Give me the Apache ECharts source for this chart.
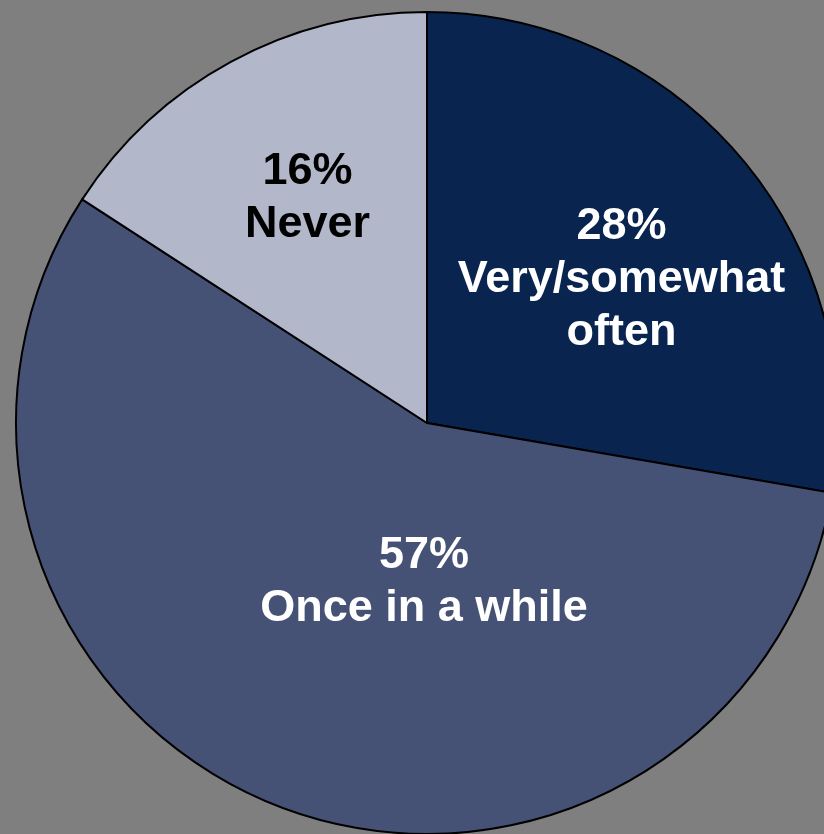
<!DOCTYPE html>
<html>
<head>
<meta charset="utf-8">
<script src="https://cdn.jsdelivr.net/npm/echarts@6/dist/echarts.min.js"></script>
<style>
  html, body { margin: 0; padding: 0; background: #7f7f7f; }
  #pie-chart { width: 824px; height: 834px; }
</style>
</head>
<body>
<div id="pie-chart"></div>
<script>
// chart data
const categories = ['Very/somewhat often', 'Once in a while', 'Never']
const percents = [28, 57, 16]

const sliceColors = ['#08244f', '#465275', '#b3b7ca']
const labelColors = ['#ffffff', '#ffffff', '#000000']
// nudge labels from the default "inside" spot
const labelOffsets = [[35, -9], [73, -35], [-20, -42]]

const chart = echarts.init(document.getElementById('pie-chart'))

chart.setOption({
  backgroundColor: '#7f7f7f',
  animation: false,
  series: [
    {
      type: 'pie',
      center: [427, 423],
      radius: [0, 411],
      startAngle: 90,
      clockwise: true,
      silent: true,
      itemStyle: {
        borderColor: '#000000',
        borderWidth: 2
      },
      label: {
        show: true,
        position: 'inside',
        fontFamily: 'Liberation Sans, Arial, sans-serif',
        fontWeight: 'bold',
        fontSize: 45,
        lineHeight: 53,
        align: 'center',
        formatter: (p) => {
          const name = p.name === 'Very/somewhat often' ? 'Very/somewhat\noften' : p.name
          return p.value + '%\n' + name
        }
      },
      labelLine: { show: false },
      data: categories.map((name, i) => ({
        name: name,
        value: percents[i],
        itemStyle: { color: sliceColors[i] },
        label: { color: labelColors[i], offset: labelOffsets[i] }
      }))
    }
  ]
})
</script>
</body>
</html>
